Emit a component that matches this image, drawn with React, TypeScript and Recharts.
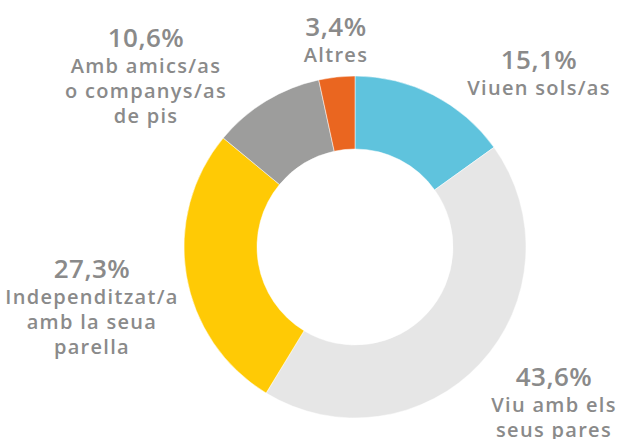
import { PieChart, Pie, Cell } from 'recharts';

const categories = [
  ['Viuen sols/as'],
  ['Viu amb els', 'seus pares'],
  ['Independitzat/a', 'amb la seua', 'parella'],
  ['Amb amics/as', 'o companys/as', 'de pis'],
  ['Altres'],
];
const values = [15.1, 43.6, 27.3, 10.6, 3.4];
const colors = ['#5fc3dd', '#e6e6e6', '#ffca05', '#9d9d9c', '#ea6620'];

// where each label block sits (centre x, baseline of the percentage)
const labelAnchors = [
  [539, 69],
  [554, 386],
  [92, 278],
  [146, 47],
  [336, 36],
];

const chartData = categories.map((lines, i) => ({ name: lines.join(' '), value: values[i] }));

const TEXT = '#8a8a8a';
const FONT = '"Open Sans", Lato, sans-serif';

function fmt(v: number) {
  return v.toFixed(1).replace('.', ',') + '%';
}

function renderLabel(props: any) {
  const i = props.index;
  const [x, y] = labelAnchors[i];
  return (
    <g key={`lbl-${i}`}>
      <text
        x={x}
        y={y}
        textAnchor="middle"
        fill={TEXT}
        fontSize={26}
        fontWeight={600}
        fontFamily={FONT}
        letterSpacing={0.5}
      >
        {fmt(values[i])}
      </text>
      {categories[i].map((line, j) => (
        <text
          key={j}
          x={x}
          y={y + 26 + j * 25}
          textAnchor="middle"
          fill={TEXT}
          fontSize={20}
          fontWeight={600}
          fontFamily={FONT}
          letterSpacing={1.3}
        >
          {line}
        </text>
      ))}
    </g>
  );
}

export default function App() {
  return (
    <div style={{ position: 'absolute', left: 0, top: 0, width: 619, height: 439, background: '#fff' }}>
      <PieChart width={619} height={439} margin={{ top: 0, right: 0, bottom: 0, left: 0 }}>
        <Pie
          data={chartData}
          dataKey="value"
          cx={355}
          cy={247}
          innerRadius={98}
          outerRadius={171}
          startAngle={90}
          endAngle={-270}
          stroke="#fff"
          strokeWidth={0.5}
          label={renderLabel}
          labelLine={false}
          isAnimationActive={false}
        >
          {chartData.map((_, i) => (
            <Cell key={i} fill={colors[i]} />
          ))}
        </Pie>
      </PieChart>
    </div>
  );
}
